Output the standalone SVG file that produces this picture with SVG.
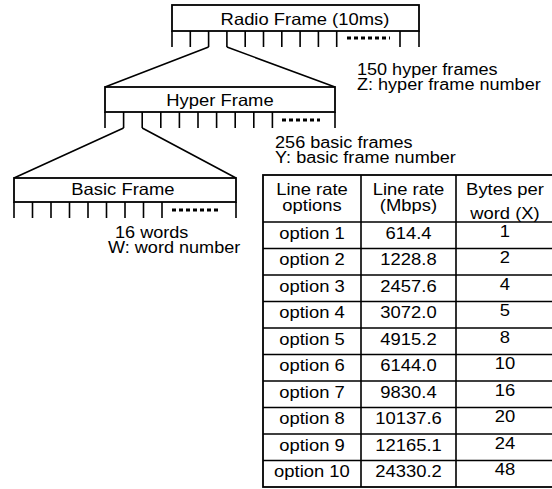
<svg xmlns="http://www.w3.org/2000/svg" width="552" height="489" viewBox="0 0 552 489">
<style>
  .ln{fill:none;stroke:#000;stroke-width:1.6}
  .box{fill:#fff;stroke:#000;stroke-width:1.8}
  .dots{fill:none;stroke:#000;stroke-width:3;stroke-dasharray:4 3}
  text{font-family:"Liberation Sans",Arial,sans-serif;font-size:16.3px;fill:#000}
  .c{text-anchor:middle}
  .lbl{font-size:16px}
</style>
<rect width="552" height="489" fill="#fff"/>
<g id="connectors">
  <path class="ln" d="M208.6,47 L105,87 M226.9,47 L335,87"/>
  <path class="ln" d="M123.6,128 L14,178 M142.2,128 L236,178"/>
</g>
<g id="radio-frame">
  <rect class="box" x="172" y="5" width="247" height="26"/>
  <path class="ln" d="M172,31V47 M190.3,31V47 M208.6,31V47 M226.9,31V47 M245.2,31V47 M263.5,31V47 M281.8,31V47 M300.1,31V47 M318.4,31V47 M336.7,31V47 M400,31V47 M419,31V47"/>
  <path class="dots" d="M347,38H390"/>
  <text class="c" transform="scale(1.13 1)" x="269.9" y="25">Radio Frame (10ms)</text>
</g>
<g id="hyper-frame">
  <rect class="box" x="105" y="87" width="230" height="25"/>
  <path class="ln" d="M105,112V128 M123.6,112V128 M142.2,112V128 M160.8,112V128 M179.4,112V128 M198,112V128 M216.6,112V128 M235.2,112V128 M253.8,112V128 M272.4,112V128 M335,112V128"/>
  <path class="dots" d="M282,120H320"/>
  <text class="c" transform="scale(1.13 1)" x="194.7" y="106">Hyper Frame</text>
</g>
<g id="basic-frame">
  <rect class="box" x="14" y="178" width="222" height="24"/>
  <path class="ln" d="M14,202V218 M32.5,202V218 M51,202V218 M69.5,202V218 M88,202V218 M106.5,202V218 M125,202V218 M143.5,202V218 M162,202V218 M236,202V218"/>
  <path class="dots" d="M172,210H218"/>
  <text class="c" transform="scale(1.13 1)" x="108.8" y="195">Basic Frame</text>
</g>
<g id="hyper-label" class="lbl">
  <text class="lbl" transform="scale(1.13 1)" x="315.9" y="75">150 hyper frames</text>
  <text class="lbl" transform="scale(1.13 1)" x="315.9" y="90">Z: hyper frame number</text>
</g>
<g id="basic-label">
  <text class="lbl" transform="scale(1.13 1)" x="243.4" y="148">256 basic frames</text>
  <text class="lbl" transform="scale(1.13 1)" x="243.4" y="163">Y: basic frame number</text>
</g>
<g id="word-label">
  <text class="lbl" transform="scale(1.13 1)" x="101.8" y="238">16 words</text>
  <text class="lbl" transform="scale(1.13 1)" x="95.6" y="253">W: word number</text>
</g>
<g id="table">
  <rect class="box" x="263" y="175" width="292" height="312"/>
  <path class="ln" d="M361,175V487 M456,175V487 M263,222H555 M263,248.5H555 M263,275H555 M263,301.5H555 M263,328H555 M263,354.5H555 M263,381H555 M263,407.5H555 M263,434H555 M263,460.5H555"/>
  <g transform="scale(1.13 1)" class="c">
    <text x="276.1" y="195">Line rate</text>
    <text x="276.1" y="211">options</text>
    <text x="361.5" y="195">Line rate</text>
    <text x="361.5" y="211">(Mbps)</text>
    <text x="446.9" y="195">Bytes per</text>
    <text x="446.9" y="219">word (X)</text>
    <text x="276.1" y="239">option 1</text><text x="361.5" y="239">614.4</text><text x="446.9" y="237">1</text>
    <text x="276.1" y="265.5">option 2</text><text x="361.5" y="265.5">1228.8</text><text x="446.9" y="263.5">2</text>
    <text x="276.1" y="292">option 3</text><text x="361.5" y="292">2457.6</text><text x="446.9" y="290">4</text>
    <text x="276.1" y="318.5">option 4</text><text x="361.5" y="318.5">3072.0</text><text x="446.9" y="316.5">5</text>
    <text x="276.1" y="345">option 5</text><text x="361.5" y="345">4915.2</text><text x="446.9" y="343">8</text>
    <text x="276.1" y="371.5">option 6</text><text x="361.5" y="371.5">6144.0</text><text x="446.9" y="369.5">10</text>
    <text x="276.1" y="398">option 7</text><text x="361.5" y="398">9830.4</text><text x="446.9" y="396">16</text>
    <text x="276.1" y="424.5">option 8</text><text x="361.5" y="424.5">10137.6</text><text x="446.9" y="422.5">20</text>
    <text x="276.1" y="451">option 9</text><text x="361.5" y="451">12165.1</text><text x="446.9" y="449">24</text>
    <text x="276.1" y="477.5">option 10</text><text x="361.5" y="477.5">24330.2</text><text x="446.9" y="475.5">48</text>
  </g>
</g>
</svg>
